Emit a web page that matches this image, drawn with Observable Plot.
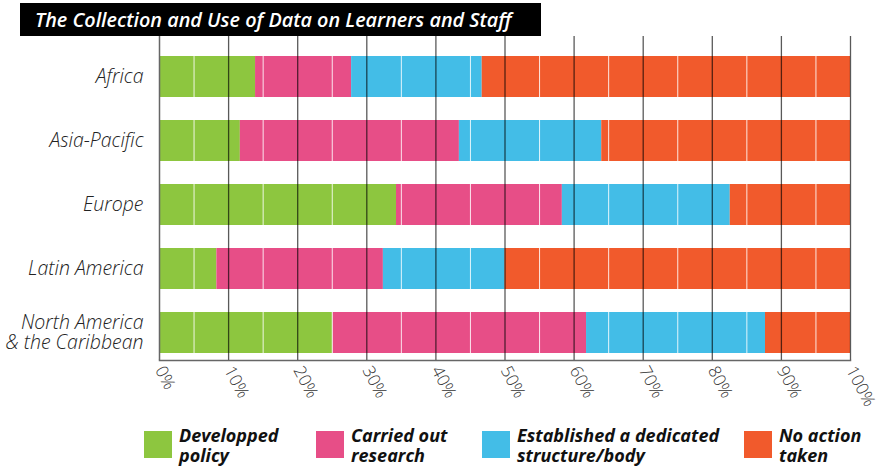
<!DOCTYPE html>
<html>
<head>
<meta charset="utf-8">
<script src="https://cdn.jsdelivr.net/npm/d3@7"></script>
<script src="https://cdn.jsdelivr.net/npm/@observablehq/plot@0.6"></script>
<style>
  body { margin: 0; background: white; font-family: "Open Sans", sans-serif; }
  #wrap { position: relative; width: 877px; height: 469px; overflow: hidden; }
  #title { position: absolute; left: 20px; top: 3px; width: 506px; height: 33px; background: #000; color: #fff;
           font: italic 600 19.8px "Open Sans", sans-serif; line-height: 33px; padding-left: 15px; white-space: nowrap; z-index: 2; }
  #chart { position: absolute; left: 0; top: 0; }
  .lg-sq { position: absolute; width: 28px; height: 27px; top: 431px; }
  .lg-tx { position: absolute; top: 425px; font: italic 700 18px "Open Sans", sans-serif; line-height: 20px; color: #111; white-space: nowrap; }
</style>
</head>
<body>
<div id="wrap">
  <div id="chart"></div>
  <div id="title">The Collection and Use of Data on Learners and Staff</div>
  <div id="legend"></div>
</div>
<script>
const regions = ["Africa", "Asia-Pacific", "Europe", "Latin America", "North America\n& the Caribbean"];
const series = ["Developped policy", "Carried out research", "Established a dedicated structure/body", "No action taken"];
const legendLabels = ["Developped\npolicy", "Carried out\nresearch", "Established a dedicated\nstructure/body", "No action\ntaken"];
const colors = ["#8DC63F", "#E74E87", "#43BDE7", "#F15A2C"];
const developed = [13.9, 11.7, 34.3, 8.3, 25.1];
const research  = [13.9, 31.7, 24.0, 24.1, 36.7];
const structure = [18.9, 20.6, 24.3, 17.6, 25.9];
const noAction  = [53.3, 36.0, 17.4, 50.0, 12.3];
const xTicks = [0, 10, 20, 30, 40, 50, 60, 70, 80, 90, 100];
const minorTicks = [5, 15, 25, 35, 45, 55, 65, 75, 85, 95];

const seriesValues = [developed, research, structure, noAction];
const rows = [];
regions.forEach((r, i) => {
  series.forEach((s, j) => rows.push({region: r, series: s, value: seriesValues[j][i]}));
});

const chart = Plot.plot({
  width: 877,
  height: 420,
  marginLeft: 159,
  marginRight: 27,
  marginTop: 36,
  marginBottom: 60,
  style: {fontFamily: "'Open Sans', sans-serif", background: "transparent", overflow: "visible"},
  x: {domain: [0, 100], axis: null, label: null},
  y: {domain: regions, paddingInner: 0.36, paddingOuter: 0.21, align: 0.74, axis: null, label: null},
  color: {domain: series, range: colors},
  marks: [
    Plot.barX(rows, {x: "value", y: "region", fill: "series"}),
    Plot.ruleX(minorTicks, {stroke: "white", strokeOpacity: 0.85, strokeWidth: 1}),
    Plot.ruleX([0], {stroke: "#666", strokeWidth: 1.5}),
    Plot.ruleX(xTicks.slice(1), {stroke: "#000", strokeOpacity: 0.65, strokeWidth: 1.3}),
    Plot.frame({anchor: "bottom", stroke: "#666", strokeWidth: 1.5}),
    Plot.axisX({ticks: xTicks, tickFormat: d => d + "%", tickRotate: 62, tickSize: 0, tickPadding: 7,
                fontSize: 17, fontWeight: 300, color: "#333", label: null}),
    Plot.axisY({tickSize: 0, tickPadding: 16, fontSize: 19.5, fontStyle: "italic", fontWeight: 300,
                color: "#222", lineHeight: 1.02, label: null})
  ]
});
document.getElementById("chart").appendChild(chart);

const legendX = [144, 316, 482, 744];
const legend = document.getElementById("legend");
series.forEach((s, i) => {
  const sq = document.createElement("div");
  sq.className = "lg-sq";
  sq.style.left = legendX[i] + "px";
  sq.style.background = colors[i];
  legend.appendChild(sq);
  const tx = document.createElement("div");
  tx.className = "lg-tx";
  tx.style.left = (legendX[i] + 35) + "px";
  tx.innerHTML = legendLabels[i].replace("\n", "<br>");
  legend.appendChild(tx);
});
</script>
</body>
</html>
